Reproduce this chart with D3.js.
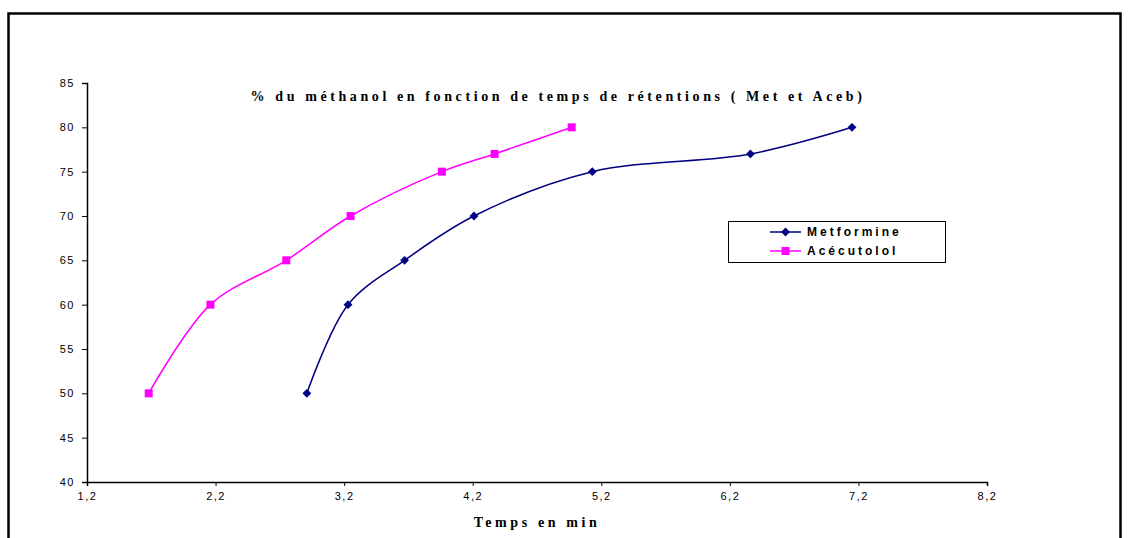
<!DOCTYPE html>
<html>
<head>
<meta charset="utf-8">
<script src="https://cdn.jsdelivr.net/npm/d3@7"></script>
<style>
  body { margin: 0; background: #fff; }
  svg { display: block; }
</style>
</head>
<body>
<svg id="chart" width="1130" height="538"></svg>
<script>
// valeurs
var pourcentMethanol = [50, 60, 65, 70, 75, 77, 80];
var tempsMetformine = [2.91, 3.23, 3.67, 4.21, 5.13, 6.36, 7.15];
var tempsAcecutolol = [1.68, 2.16, 2.75, 3.25, 3.96, 4.37, 4.97];
var xTicks = [1.2, 2.2, 3.2, 4.2, 5.2, 6.2, 7.2, 8.2];
var yTicks = [40, 45, 50, 55, 60, 65, 70, 75, 80, 85];
var series = [
    {nom: "Metformine", temps: tempsMetformine, couleur: "#000080", symbole: d3.symbolDiamond2, taille: 50},
    {nom: "Acécutolol", temps: tempsAcecutolol, couleur: "#FF00FF", symbole: d3.symbolSquare, taille: 64}
];

var marge = {haut: 83, droite: 143, bas: 56, gauche: 87};
var hauteur = 538;
var largeur = 1130;
var svg = d3.select("#chart");

// cadre
svg.append("rect")
    .attr("x", 8.5).attr("y", 13.5)
    .attr("width", 1112).attr("height", 540)
    .attr("fill", "none").attr("stroke", "#000").attr("stroke-width", 2.5);

var xScale = d3.scaleLinear().domain([1.2, 8.2]).range([marge.gauche, largeur - marge.droite]);
var yScale = d3.scaleLinear().domain([40, 85]).range([hauteur - marge.bas, marge.haut]);

var virgule = d => d3.format(".1f")(d).replace(".", ",");

var xAxis = g => g
    .attr("transform", `translate(0,${hauteur - marge.bas})`)
    .call(d3.axisBottom(xScale).tickValues(xTicks).tickFormat(virgule).tickSize(4).tickSizeOuter(4).tickPadding(6));
var yAxis = g => g
    .attr("transform", `translate(${marge.gauche},0)`)
    .call(d3.axisLeft(yScale).tickValues(yTicks).tickSize(5).tickSizeOuter(5).tickPadding(7));

svg.append("g").call(xAxis);
svg.append("g").call(yAxis);

svg.selectAll(".domain").attr("stroke", "#000").attr("stroke-width", 1.5);
svg.selectAll(".tick line").attr("stroke", "#000");
svg.selectAll(".tick text")
    .style("font-family", "Arial, 'Liberation Sans', sans-serif")
    .style("font-size", "11px")
    .style("letter-spacing", "1.5px")
    .attr("fill", "#000");

// titre
svg.append("text")
    .attr("x", 558).attr("y", 101)
    .style("text-anchor", "middle")
    .style("font-family", "'Times New Roman', 'Liberation Serif', serif")
    .style("font-weight", "bold")
    .style("font-size", "14px")
    .style("letter-spacing", "3.6px")
    .text("% du méthanol en fonction de temps de rétentions ( Met et Aceb)");

svg.append("text")
    .attr("x", 537).attr("y", 527)
    .style("text-anchor", "middle")
    .style("font-family", "'Times New Roman', 'Liberation Serif', serif")
    .style("font-weight", "bold")
    .style("font-size", "14px")
    .style("letter-spacing", "3.6px")
    .text("Temps en min");

var ligne = d3.line()
    .x(d => xScale(d[0]))
    .y(d => yScale(d[1]))
    .curve(d3.curveCatmullRom.alpha(0.5));

series.forEach(function(s) {
    var pts = s.temps.map((t, i) => [t, pourcentMethanol[i]]);
    svg.append("path")
        .attr("d", ligne(pts))
        .attr("fill", "none")
        .attr("stroke", s.couleur)
        .attr("stroke-width", 1.5);
    svg.selectAll(null)
        .data(pts)
        .enter()
        .append("path")
        .attr("transform", d => `translate(${xScale(d[0])},${yScale(d[1])})`)
        .attr("d", d3.symbol().type(s.symbole).size(s.taille))
        .attr("fill", s.couleur);
});

// légende
var leg = svg.append("g");
leg.append("rect")
    .attr("x", 728.5).attr("y", 221.5)
    .attr("width", 217).attr("height", 41)
    .attr("fill", "#fff").attr("stroke", "#000").attr("stroke-width", 1);
series.forEach(function(s, i) {
    var y = 232 + i * 19;
    leg.append("line")
        .attr("x1", 770).attr("x2", 801)
        .attr("y1", y).attr("y2", y)
        .attr("stroke", s.couleur).attr("stroke-width", 1.5);
    leg.append("path")
        .attr("transform", `translate(785.5,${y})`)
        .attr("d", d3.symbol().type(s.symbole).size(s.taille))
        .attr("fill", s.couleur);
    leg.append("text")
        .attr("x", 807).attr("y", y + 4)
        .style("font-family", "Arial, 'Liberation Sans', sans-serif")
        .style("font-weight", "bold")
        .style("font-size", "12px")
        .style("letter-spacing", "3px")
        .text(s.nom);
});
</script>
</body>
</html>
